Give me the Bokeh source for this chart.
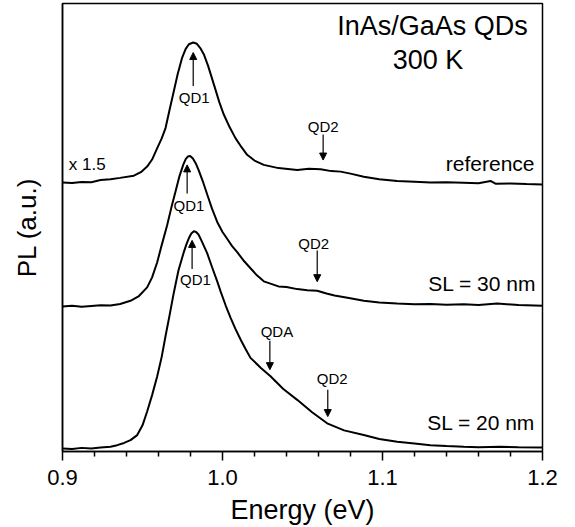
from bokeh.plotting import figure
from bokeh.models import Range1d, FixedTicker, Arrow, NormalHead, ColumnDataSource, NumeralTickFormatter
from bokeh.core.properties import value
from bokeh.embed import file_html
from bokeh.resources import INLINE

FONT = "Liberation Sans"

# ---- data (energy in eV, PL in offset arbitrary units) ----
energy_ref = [0.900, 0.906, 0.912, 0.918, 0.9238, 0.930, 0.936, 0.9446, 0.9490, 0.9529, 0.9560, 0.9592,
              0.9620, 0.9644, 0.9670, 0.9696, 0.9720, 0.9748, 0.9770, 0.9790, 0.9817, 0.9840,
              0.9860, 0.9883, 0.9910, 0.9946, 0.9980, 1.0008, 1.0045, 1.0081, 1.0120, 1.0154,
              1.0200, 1.0258, 1.0350, 1.0467, 1.0540, 1.0613, 1.0680, 1.0738, 1.0800, 1.0883,
              1.0980, 1.1092, 1.1200, 1.1300, 1.1400, 1.1506, 1.1600, 1.1675, 1.1706, 1.1800,
              1.1900, 1.2000]
pl_ref = [267.3, 266.8, 267.8, 267.5, 269.7, 270.5, 271.8, 274.0, 277.5, 283.0, 290.0, 301.3,
          311.0, 321.3, 340.0, 358.0, 375.0, 391.3, 400.0, 404.5, 406.3, 405.0,
          401.0, 394.7, 383.0, 364.7, 347.0, 334.7, 322.0, 311.3, 302.0, 294.7,
          289.0, 284.7, 281.5, 279.7, 280.8, 280.3, 278.5, 278.0, 276.0, 273.0,
          270.5, 268.7, 268.0, 267.3, 267.5, 267.0, 266.5, 268.7, 266.0, 266.2,
          265.6, 265.3]

energy_30 = [0.900, 0.906, 0.912, 0.918, 0.9238, 0.930, 0.936, 0.9425, 0.9475, 0.9529, 0.9560,
             0.9592, 0.9620, 0.9654, 0.9680, 0.9706, 0.9730, 0.9755, 0.9770, 0.9783, 0.9798,
             0.9815, 0.9835, 0.9852, 0.9880, 0.9905, 0.9935, 0.9967, 1.0000, 1.0029, 1.0060,
             1.0092, 1.0130, 1.0175, 1.0215, 1.0258, 1.0350, 1.0400, 1.0467, 1.0530, 1.0592,
             1.0650, 1.0700, 1.0790, 1.0883, 1.0980, 1.1092, 1.1200, 1.1300, 1.1400, 1.1508,
             1.1600, 1.1717, 1.1850, 1.2000]
pl_30 = [144.0, 144.8, 143.8, 144.6, 145.3, 145.0, 146.5, 149.7, 154.0, 163.0, 173.0,
         188.0, 205.0, 224.7, 242.0, 258.0, 273.0, 285.0, 290.5, 293.0, 293.5,
         291.0, 285.5, 279.0, 267.0, 255.0, 241.0, 228.0, 218.0, 211.3, 204.0,
         198.0, 190.0, 182.0, 175.0, 169.0, 164.0, 163.5, 161.3, 160.2, 159.7,
         157.0, 155.0, 152.5, 149.7, 148.0, 147.0, 146.2, 146.5, 145.8, 146.3,
         145.6, 147.0, 145.5, 144.7]

energy_20 = [0.900, 0.906, 0.912, 0.918, 0.9238, 0.9300, 0.9342, 0.9385, 0.9425, 0.9467, 0.9500,
             0.9529, 0.9560, 0.9592, 0.9620, 0.9644, 0.9670, 0.9696, 0.9725, 0.9758, 0.9775,
             0.9790, 0.9805, 0.9821, 0.9835, 0.9850, 0.9870, 0.9904, 0.9935, 0.9967, 0.9988,
             1.0020, 1.0050, 1.0080, 1.0113, 1.0145, 1.0175, 1.0240, 1.0300, 1.0380, 1.0467,
             1.0560, 1.0654, 1.0760, 1.0883, 1.0980, 1.1092, 1.1200, 1.1300, 1.1400, 1.1508,
             1.1600, 1.1738, 1.1850, 1.2000]
pl_20 = [3.0, 2.4, 3.6, 3.0, 4.0, 4.8, 6.3, 8.5, 11.3, 16.3, 26.0,
         39.7, 56.0, 74.7, 94.0, 114.7, 136.0, 158.0, 180.0, 198.0, 206.0,
         212.0, 216.5, 218.7, 218.0, 215.5, 209.0, 197.0, 183.0, 169.0, 159.0,
         145.0, 133.0, 122.0, 111.3, 101.5, 93.0, 83.0, 74.7, 62.0, 51.3,
         39.0, 28.0, 21.0, 16.3, 12.5, 9.7, 8.0, 6.3, 5.5, 4.7,
         4.2, 4.7, 4.3, 4.0]

# peak markers: energy, arrow tail, arrow tip
arrow_energy = [0.9817, 1.0629, 0.9779, 1.0592, 0.9810, 1.0296, 1.0658]
arrow_tail = [363.0, 315.0, 256.3, 199.7, 181.3, 110.0, 61.3]
arrow_tip = [396.3, 289.5, 284.7, 168.7, 209.7, 81.3, 34.7]

peak_labels = ["QD1", "QD2", "QD1", "QD2", "QD1", "QDA", "QD2"]
peak_label_energy = [0.9823, 1.0629, 0.9790, 1.0570, 0.9831, 1.0340, 1.0686]
peak_label_pl = [351.3, 323.0, 244.5, 207.0, 170.5, 119.0, 73.0]

sample_labels = ["reference", "SL = 30 nm", "SL = 20 nm"]
sample_label_energy = [1.195, 1.1961, 1.1954]
sample_label_pl = [286.0, 167.0, 28.5]

title_lines = ["InAs/GaAs QDs", "300 K"]
title_energy = [1.1313, 1.1284]
title_pl = [423.0, 389.0]

scale_label = ["x 1.5"]
scale_energy = [0.9039]
scale_pl = [284.7]

x_major = [0.9, 1.0, 1.1, 1.2]
x_minor = [0.92, 0.94, 0.96, 0.98, 1.02, 1.04, 1.06, 1.08, 1.12, 1.14, 1.16, 1.18]

# ---- figure ----
p = figure(width=567, height=527, output_backend="svg", toolbar_location=None,
           x_range=Range1d(0.9, 1.2), y_range=Range1d(0, 445),
           min_border_left=62, min_border_right=25, min_border_top=3, min_border_bottom=0)
p.xgrid.visible = False
p.ygrid.visible = False
p.outline_line_color = "black"
p.outline_line_width = 1.5
p.outline_line_alpha = 1.0
p.background_fill_color = "white"
p.border_fill_color = "white"

xa = p.xaxis[0]
xa.ticker = FixedTicker(ticks=x_major, minor_ticks=x_minor)
xa.formatter = NumeralTickFormatter(format="0.0")
xa.axis_line_width = 1.5
xa.major_tick_line_width = 1.5
xa.minor_tick_line_width = 1.5
xa.major_tick_out = 9
xa.major_tick_in = 0
xa.minor_tick_out = 5
xa.minor_tick_in = 0
xa.major_label_text_font = FONT
xa.major_label_text_font_size = "22px"
xa.major_label_text_color = "black"
xa.major_label_standoff = 9
xa.axis_label = "Energy (eV)"
xa.axis_label_text_font = FONT
xa.axis_label_text_font_size = "27px"
xa.axis_label_text_font_style = "normal"
xa.axis_label_text_color = "black"
xa.axis_label_standoff = 7

ya = p.yaxis[0]
ya.ticker = FixedTicker(ticks=[], minor_ticks=[])
ya.major_tick_line_color = None
ya.minor_tick_line_color = None
ya.major_label_text_font_size = "0px"
ya.axis_line_width = 1.5
ya.axis_label = "PL (a.u.)"
ya.axis_label_text_font = FONT
ya.axis_label_text_font_size = "26px"
ya.axis_label_text_font_style = "normal"
ya.axis_label_text_color = "black"
ya.axis_label_standoff = 21

for e, pl in [(energy_ref, pl_ref), (energy_30, pl_30), (energy_20, pl_20)]:
    p.line(e, pl, line_color="black", line_width=2)

arrow_src = ColumnDataSource(dict(x0=arrow_energy, y0=arrow_tail, x1=arrow_energy, y1=arrow_tip))
p.add_layout(Arrow(end=NormalHead(size=7, fill_color="black", line_color="black", line_width=1),
                   x_start="x0", y_start="y0", x_end="x1", y_end="y1",
                   source=arrow_src, line_color="black", line_width=1.2))

p.text(x=peak_label_energy, y=peak_label_pl, text=peak_labels,
       text_font=value(FONT), text_font_size=value("15px"), text_color="black",
       text_align="center", text_baseline="middle")
p.text(x=sample_label_energy, y=sample_label_pl, text=sample_labels,
       text_font=value(FONT), text_font_size=value("21px"), text_color="black",
       text_align="right", text_baseline="middle")
p.text(x=title_energy, y=title_pl, text=title_lines,
       text_font=value(FONT), text_font_size=value("27px"), text_color="black",
       text_align="center", text_baseline="middle")
p.text(x=scale_energy, y=scale_pl, text=scale_label,
       text_font=value(FONT), text_font_size=value("17px"), text_color="black",
       text_align="left", text_baseline="middle")

open("out.html", "w").write(file_html(p, INLINE))
